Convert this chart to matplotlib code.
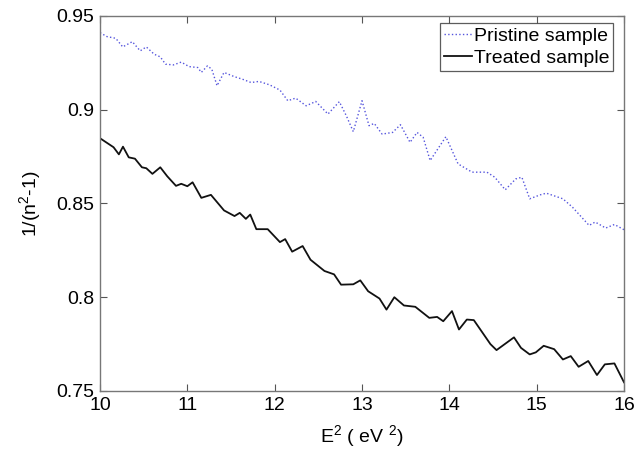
import numpy as np
import matplotlib
matplotlib.use("Agg")
import matplotlib.pyplot as plt

plt.rcParams['font.family'] = ['Liberation Sans', 'DejaVu Sans']
plt.rcParams['mathtext.fontset'] = 'custom'
plt.rcParams['mathtext.rm'] = 'Liberation Sans'

# data
E2_pristine = [10.0, 10.08, 10.18, 10.26, 10.37, 10.46, 10.53, 10.62, 10.69, 10.75,
               10.84, 10.93, 11.02, 11.12, 11.16, 11.23, 11.28, 11.34, 11.42, 11.54,
               11.63, 11.73, 11.82, 11.94, 12.06, 12.15, 12.24, 12.36, 12.47, 12.61,
               12.74, 12.82, 12.90, 13.0, 13.08, 13.14, 13.23, 13.35, 13.44, 13.55,
               13.63, 13.70, 13.78, 13.96, 14.10, 14.26, 14.43, 14.52, 14.64, 14.76,
               14.83, 14.92, 15.04, 15.11, 15.30, 15.41, 15.60, 15.67, 15.79, 15.89, 16.0]
pristine = [0.9411, 0.9390, 0.9381, 0.9335, 0.9363, 0.9314, 0.9335, 0.9296, 0.9282, 0.9243,
            0.9239, 0.9254, 0.9230, 0.9225, 0.9199, 0.9234, 0.9216, 0.9128, 0.9199, 0.9176,
            0.9163, 0.9145, 0.9151, 0.9133, 0.9105, 0.9048, 0.9062, 0.9021, 0.9044, 0.8977,
            0.9043, 0.8968, 0.8883, 0.9048, 0.8915, 0.8927, 0.8870, 0.8879, 0.8920, 0.8826,
            0.8879, 0.8853, 0.8729, 0.8856, 0.8711, 0.8667, 0.8667, 0.8640, 0.8573, 0.8631,
            0.8640, 0.8525, 0.8546, 0.8555, 0.8525, 0.8480, 0.8383, 0.8401, 0.8369, 0.8388, 0.8360]

E2_treated = [10.0, 10.155, 10.216, 10.263, 10.329, 10.40, 10.48, 10.53, 10.60, 10.69,
              10.77, 10.87, 10.93, 11.0, 11.06, 11.16, 11.27, 11.42, 11.54, 11.60,
              11.67, 11.72, 11.79, 11.92, 12.06, 12.12, 12.20, 12.32, 12.41, 12.57,
              12.68, 12.76, 12.90, 12.98, 13.07, 13.20, 13.28, 13.37, 13.48, 13.61,
              13.77, 13.86, 13.93, 14.03, 14.11, 14.20, 14.28, 14.47, 14.54, 14.74,
              14.82, 14.92, 14.99, 15.08, 15.20, 15.30, 15.39, 15.48, 15.59, 15.69,
              15.78, 15.89, 16.0]
treated = [0.8848, 0.8800, 0.8762, 0.8803, 0.8746, 0.8739, 0.8693, 0.8688, 0.8658, 0.8693,
           0.8645, 0.8594, 0.8605, 0.8592, 0.8613, 0.8530, 0.8546, 0.8463, 0.8433, 0.8450,
           0.8418, 0.8441, 0.8363, 0.8363, 0.8294, 0.8310, 0.8243, 0.8273, 0.8200, 0.8140,
           0.8122, 0.8067, 0.8069, 0.8090, 0.8032, 0.7993, 0.7934, 0.8000, 0.7956, 0.7949,
           0.7890, 0.7895, 0.7872, 0.7926, 0.7828, 0.7881, 0.7878, 0.7750, 0.7718, 0.7786,
           0.7730, 0.7695, 0.7706, 0.7741, 0.7723, 0.7668, 0.7686, 0.7629, 0.7660, 0.7585,
           0.7642, 0.7647, 0.7546]

fig = plt.figure(figsize=(6.44, 4.54), dpi=100)
ax = fig.add_axes([0.1553, 0.1388, 0.8137, 0.826])

ax.plot(E2_pristine, pristine, ':', color='#5555dd', lw=1.0, label='Pristine sample')
ax.plot(E2_treated, treated, '-', color='#111111', lw=1.3, label='Treated sample')

ax.set_xlim(10, 16)
ax.set_ylim(0.75, 0.95)
ax.set_xticks(np.arange(10, 17, 1))
ax.set_yticks([0.75, 0.8, 0.85, 0.9, 0.95])
ax.set_yticklabels(['0.75', '0.8', '0.85', '0.9', '0.95'])
ax.tick_params(direction='in', top=True, right=True, length=5, width=0.8,
               labelsize=14, color='#555555', pad=4)
for s in ax.spines.values():
    s.set_color('#777777')
    s.set_linewidth(1.0)

ax.set_xlabel('E$^2$ ( eV $^2$)', fontsize=14, labelpad=7)
ax.set_ylabel('1/(n$^2$-1)', fontsize=14, labelpad=9)

leg = ax.legend(loc='upper right', bbox_to_anchor=(0.979, 0.981), fontsize=14,
                frameon=True, fancybox=False, edgecolor='#333333',
                handlelength=1.45, handletextpad=0.1, borderpad=0.2,
                labelspacing=0.25, borderaxespad=0.0)
leg.get_frame().set_linewidth(0.9)

fig.savefig('out.png', dpi=100)
